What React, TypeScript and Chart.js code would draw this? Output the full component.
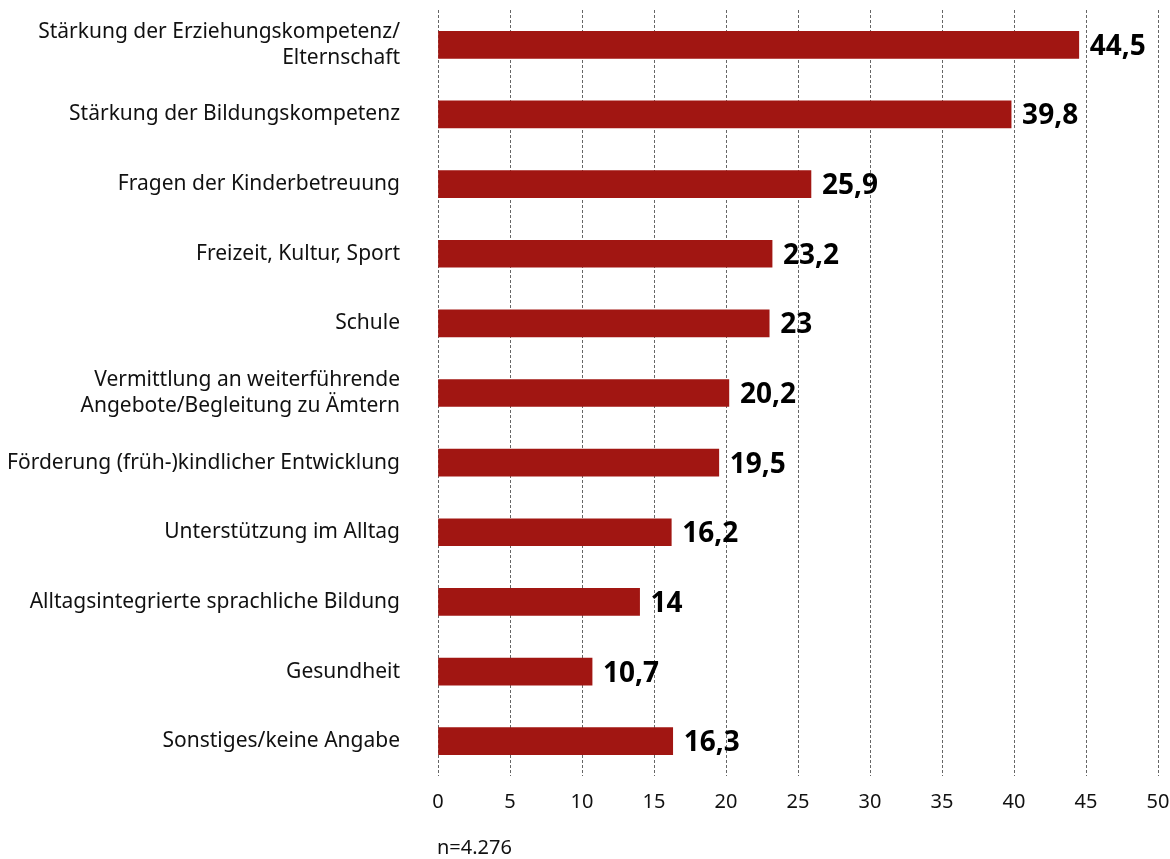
import React, { useEffect, useRef } from "react";
import { Chart, registerables } from "chart.js";

Chart.register(...registerables);

const categories: (string | string[])[] = [
  ["Stärkung der Erziehungskompetenz/", "Elternschaft"],
  "Stärkung der Bildungskompetenz",
  "Fragen der Kinderbetreuung",
  "Freizeit, Kultur, Sport",
  "Schule",
  ["Vermittlung an weiterführende", "Angebote/Begleitung zu Ämtern"],
  "Förderung (früh-)kindlicher Entwicklung",
  "Unterstützung im Alltag",
  "Alltagsintegrierte sprachliche Bildung",
  "Gesundheit",
  "Sonstiges/keine Angabe",
];

const values: number[] = [44.5, 39.8, 25.9, 23.2, 23, 20.2, 19.5, 16.2, 14, 10.7, 16.3];

const xTicks: number[] = [0, 5, 10, 15, 20, 25, 30, 35, 40, 45, 50];

const footnote = "n=4.276";

const FONT = "'Noto Sans', 'Open Sans', sans-serif";

const valueLabelPlugin = {
  id: "valueLabels",
  afterDatasetsDraw(chart: any) {
    const ctx = chart.ctx;
    const meta = chart.getDatasetMeta(0);
    ctx.save();
    ctx.font = `bold 28px ${FONT}`;
    ctx.fillStyle = "#000";
    ctx.textBaseline = "middle";
    ctx.textAlign = "left";
    meta.data.forEach((bar: any, i: number) => {
      const v = values[i];
      const txt = String(v).replace(".", ",");
      ctx.fillText(txt, bar.x + 11, bar.y + 2);
    });
    ctx.restore();
  },
};

const footnotePlugin = {
  id: "footnote",
  afterDraw(chart: any) {
    const ctx = chart.ctx;
    ctx.save();
    ctx.font = `20px ${FONT}`;
    ctx.fillStyle = "#111";
    ctx.textBaseline = "middle";
    ctx.textAlign = "left";
    ctx.fillText(footnote, chart.chartArea.left - 1, 848);
    ctx.restore();
  },
};

const zeroPad = (scale: any) => {
  scale.paddingTop = 0;
  scale.paddingBottom = 0;
  scale.paddingLeft = 0;
  scale.paddingRight = 0;
};

export default function App() {
  const ref = useRef<HTMLCanvasElement | null>(null);

  useEffect(() => {
    document.body.style.margin = "0";
    if (!ref.current) return;
    const chart = new Chart(ref.current, {
      type: "bar",
      data: {
        labels: categories,
        datasets: [
          {
            data: values,
            backgroundColor: "#a11612",
            borderWidth: 0,
            barThickness: 27,
          },
        ],
      },
      options: {
        indexAxis: "y",
        animation: false,
        responsive: false,
        maintainAspectRatio: false,
        layout: { padding: { top: 10, right: 12, left: 0, bottom: 0 } },
        plugins: {
          legend: { display: false },
          tooltip: { enabled: false },
        },
        scales: {
          x: {
            min: 0,
            max: 50,
            afterBuildTicks: (scale: any) => {
              scale.ticks = xTicks.map((v) => ({ value: v }));
            },
            afterFit: (scale: any) => {
              scale.height = 83;
              zeroPad(scale);
            },
            grid: {
              color: "#666",
              lineWidth: 1,
              drawTicks: false,
            },
            border: { display: false, dash: [3, 2] },
            ticks: {
              padding: 14,
              color: "#111",
              font: { family: FONT, size: 20 },
            },
          },
          y: {
            afterFit: (scale: any) => {
              scale.width = 438;
              zeroPad(scale);
            },
            grid: { display: false },
            border: { display: false },
            ticks: {
              padding: 30,
              color: "#111",
              font: { family: FONT, size: 21, lineHeight: 1.25 },
            },
          },
        },
      },
      plugins: [valueLabelPlugin, footnotePlugin],
    });
    return () => chart.destroy();
  }, []);

  return (
    <div style={{ width: 1170, height: 859 }}>
      <canvas ref={ref} width={1170} height={859} style={{ display: "block" }} />
    </div>
  );
}
